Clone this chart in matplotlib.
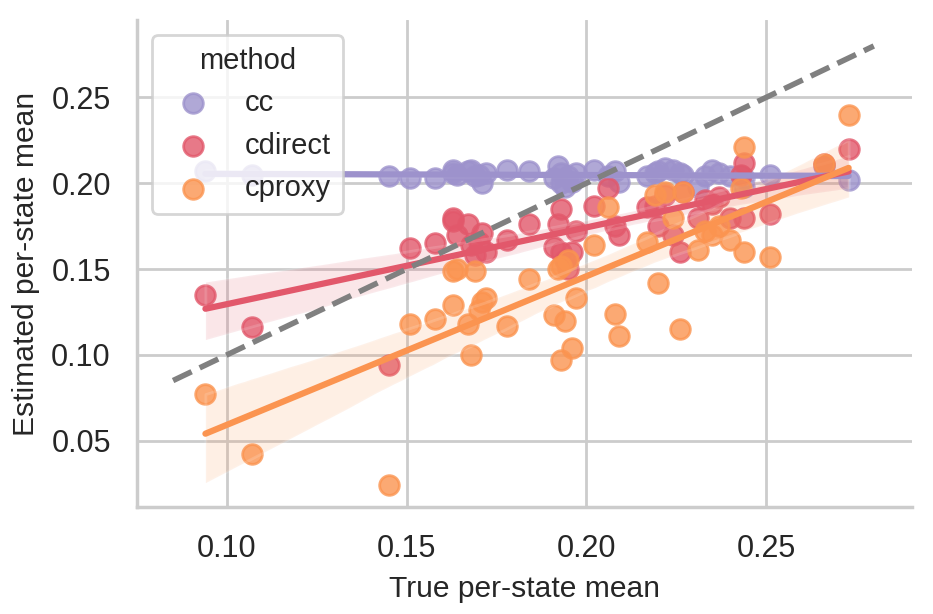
import numpy as np
import pandas as pd
import matplotlib
matplotlib.use("Agg")
import matplotlib.pyplot as plt
import seaborn as sns

# true per-state mean and the estimate from each method
true_mean = [0.094, 0.107, 0.145, 0.151, 0.158, 0.163, 0.163, 0.164, 0.167, 0.168,
             0.169, 0.170, 0.171, 0.172, 0.178, 0.184, 0.191, 0.192, 0.193, 0.193,
             0.194, 0.195, 0.196, 0.197, 0.202, 0.206, 0.208, 0.209, 0.217, 0.219,
             0.220, 0.222, 0.224, 0.226, 0.227, 0.231, 0.233, 0.235, 0.237, 0.240,
             0.243, 0.244, 0.244, 0.251, 0.266, 0.273]
cc = [0.207, 0.205, 0.204, 0.203, 0.203, 0.208, 0.206, 0.205, 0.207, 0.208,
      0.204, 0.205, 0.200, 0.206, 0.208, 0.207, 0.203, 0.210, 0.200, 0.206,
      0.198, 0.204, 0.201, 0.206, 0.208, 0.204, 0.207, 0.201, 0.204, 0.206,
      0.207, 0.209, 0.208, 0.206, 0.205, 0.198, 0.204, 0.208, 0.206, 0.204,
      0.204, 0.198, 0.203, 0.205, 0.210, 0.202]
cdirect = [0.135, 0.116, 0.094, 0.162, 0.165, 0.180, 0.178, 0.170, 0.176, 0.164,
           0.158, 0.166, 0.171, 0.160, 0.167, 0.176, 0.163, 0.176, 0.185, 0.160,
           0.155, 0.150, 0.160, 0.172, 0.187, 0.197, 0.175, 0.170, 0.186, 0.187,
           0.175, 0.193, 0.170, 0.160, 0.195, 0.180, 0.190, 0.188, 0.192, 0.180,
           0.205, 0.212, 0.180, 0.182, 0.211, 0.220]
cproxy = [0.077, 0.042, 0.024, 0.118, 0.121, 0.149, 0.129, 0.150, 0.118, 0.100,
          0.149, 0.126, 0.131, 0.133, 0.117, 0.144, 0.123, 0.150, 0.097, 0.152,
          0.120, 0.155, 0.104, 0.133, 0.164, 0.186, 0.124, 0.111, 0.166, 0.193,
          0.142, 0.195, 0.180, 0.115, 0.195, 0.161, 0.172, 0.170, 0.175, 0.167,
          0.197, 0.221, 0.160, 0.157, 0.211, 0.240]

methods = ["cc", "cdirect", "cproxy"]
colors = {"cc": "#9d92cc", "cdirect": "#e2586b", "cproxy": "#fb9450"}
estimates = {"cc": cc, "cdirect": cdirect, "cproxy": cproxy}

sns.set_theme(style="whitegrid", context="notebook")
plt.rcParams["font.family"] = ["Liberation Sans", "DejaVu Sans"]
plt.rcParams["axes.labelsize"] = 10.8
plt.rcParams["xtick.labelsize"] = 11
plt.rcParams["ytick.labelsize"] = 11
plt.rcParams["legend.fontsize"] = 10.5
plt.rcParams["legend.title_fontsize"] = 10.5

fig, ax = plt.subplots(figsize=(4.665, 3.07), dpi=200)
fig.subplots_adjust(left=0.147, right=0.977, bottom=0.174, top=0.967)

for m in methods:
    df = pd.DataFrame({"true": true_mean, "est": estimates[m]})
    sns.regplot(data=df, x="true", y="est", ax=ax, color=colors[m], label=m,
                scatter_kws={"s": 50, "alpha": 0.8}, seed=0)

ax.plot([0.085, 0.28], [0.085, 0.28], "--", color="gray", lw=2)
ax.set_xlim(0.075, 0.2905)
ax.set_ylim(0.0112, 0.295)
ax.set_xticks([0.10, 0.15, 0.20, 0.25])
ax.set_yticks([0.05, 0.10, 0.15, 0.20, 0.25])
ax.set_xlabel("True per-state mean")
ax.set_ylabel("Estimated per-state mean")
ax.legend(title="method", loc="upper left")
sns.despine(ax=ax)

fig.savefig("out.png", dpi=200)
